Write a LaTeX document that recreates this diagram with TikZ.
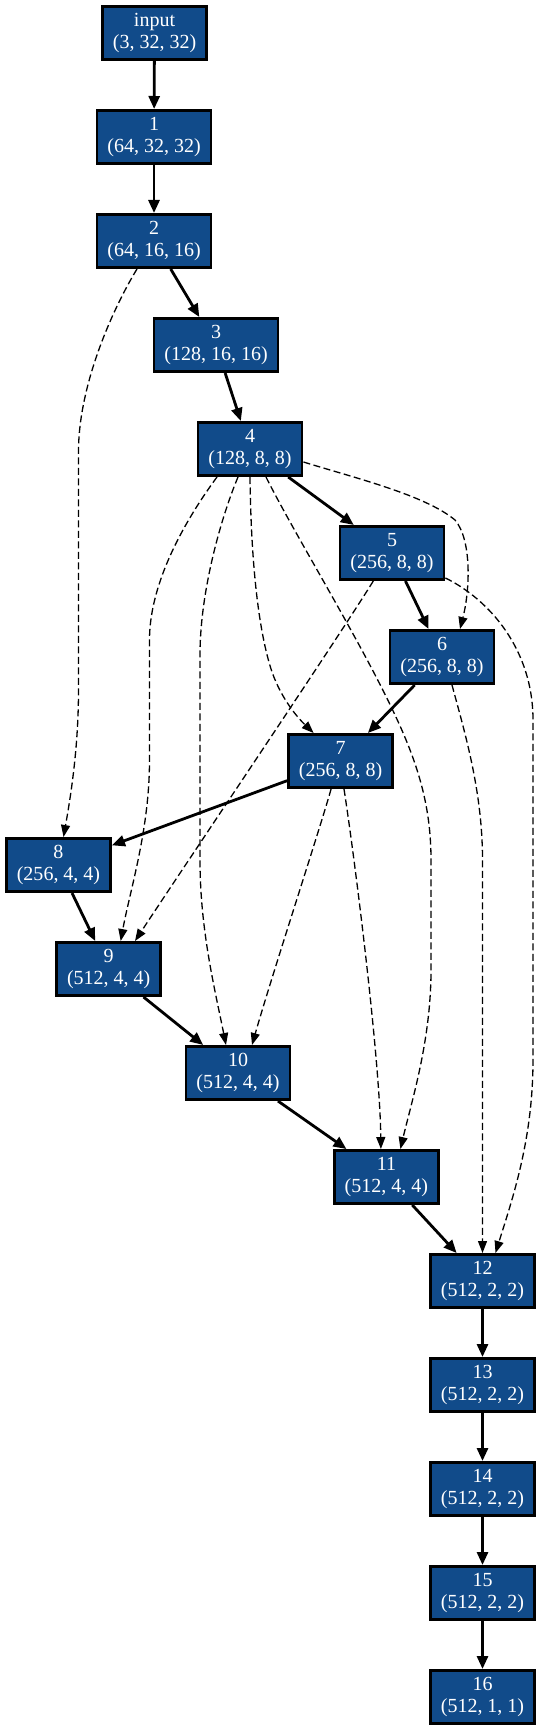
\documentclass[tikz,border=0pt]{standalone}
\usepackage{fontspec}
\setmainfont{Liberation Serif}
\usetikzlibrary{arrows.meta,calc}
\definecolor{nodeblue}{RGB}{17,75,138}
\begin{document}
\begin{tikzpicture}[x=1pt,y=-1pt,
  layerbox/.style={draw=black, line width=2.8pt, fill=nodeblue, text=white, align=center,
    font=\fontsize{20}{22.5}\selectfont, inner xsep=10.4pt, inner ysep=2pt, minimum height=53.2pt},
  flowedge/.style={line width=2.8pt, -{Triangle[length=13pt,width=11pt]}},
  skipedge/.style={line width=1.3pt, dash pattern=on 7pt off 3.5pt, -{Triangle[length=12pt,width=9pt]}}]
\useasboundingbox (0,0) rectangle (541,1731);

\node[layerbox] (in)  at (154.5,33)   {input\\(3, 32, 32)};
\node[layerbox] (n1)  at (154,137)    {1\\(64, 32, 32)};
\node[layerbox] (n2)  at (154,241)    {2\\(64, 16, 16)};
\node[layerbox] (n3)  at (216,345)    {3\\(128, 16, 16)};
\node[layerbox] (n4)  at (250,449)    {4\\(128, 8, 8)};
\node[layerbox] (n5)  at (392,553)    {5\\(256, 8, 8)};
\node[layerbox] (n6)  at (442,657)    {6\\(256, 8, 8)};
\node[layerbox] (n7)  at (340.6,761)  {7\\(256, 8, 8)};
\node[layerbox] (n8)  at (58.5,865)   {8\\(256, 4, 4)};
\node[layerbox] (n9)  at (108.7,969)  {9\\(512, 4, 4)};
\node[layerbox] (n10) at (238,1073)   {10\\(512, 4, 4)};
\node[layerbox] (n11) at (386.4,1177) {11\\(512, 4, 4)};
\node[layerbox] (n12) at (482.5,1281) {12\\(512, 2, 2)};
\node[layerbox] (n13) at (482.5,1385) {13\\(512, 2, 2)};
\node[layerbox] (n14) at (482.5,1489) {14\\(512, 2, 2)};
\node[layerbox] (n15) at (482.5,1593) {15\\(512, 2, 2)};
\node[layerbox] (n16) at (482.5,1697) {16\\(512, 1, 1)};

% main chain
\draw[flowedge] (in) -- (n1);
\draw[flowedge] (n1) -- (n2);
\draw[flowedge] (n2) -- (n3);
\draw[flowedge] (n3) -- (n4);
\draw[flowedge] (n4) -- (n5);
\draw[flowedge] (n5) -- (n6);
\draw[flowedge] (n6) -- (n7);
\draw[flowedge] (n7) -- (n8);
\draw[flowedge] (n8) -- (n9);
\draw[flowedge] (n9) -- (n10);
\draw[flowedge] (n10) -- (n11);
\draw[flowedge] (n11) -- (n12);
\draw[flowedge] (n12) -- (n13);
\draw[flowedge] (n13) -- (n14);
\draw[flowedge] (n14) -- (n15);
\draw[flowedge] (n15) -- (n16);

% skip connections
\draw[skipedge] ($(n2.south)+(-17,0)$) .. controls (112,310) and (79,385) .. (78.5,450)
  -- (78.5,690) .. controls (78.5,750) and (70,800) .. ($(n8.north)+(5,0)$);
\draw[skipedge] ($(n4.south)+(-33,0)$) .. controls (195,507) and (149.5,575) .. (149.5,640)
  -- (149.5,760) .. controls (149.5,830) and (130,890) .. ($(n9.north)+(12,0)$);
\draw[skipedge] ($(n4.south)+(-12,0)$) .. controls (222,515) and (200,590) .. (200,655)
  -- (200,860) .. controls (200,930) and (215,990) .. ($(n10.north)+(-12,0)$);
\draw[skipedge] (n4.south) .. controls (251,560) and (258,630) .. (272,672)
  .. controls (282,700) and (298,718) .. ($(n7.north)+(-27,0)$);
\draw[skipedge] ($(n4.south)+(16,0)$) .. controls (295,535) and (360,640) .. (395,715)
  .. controls (420,768) and (431,810) .. (431,860) -- (431,970)
  .. controls (431,1040) and (412,1100) .. ($(n11.north)+(14,0)$);
\draw[skipedge] ($(n4.east)+(0,13)$) .. controls (355,478) and (425,495) .. (455,520)
  .. controls (472,540) and (470,590) .. ($(n6.north)+(18,0)$);
\draw[skipedge] ($(n5.south)+(-18.7,0)$) .. controls (340,635) and (185,865) .. ($(n9.north)+(26.3,0)$);
\draw[skipedge] ($(n5.east)+(0,25)$) .. controls (490,600) and (533,650) .. (533,720)
  -- (533,1060) .. controls (533,1140) and (512,1200) .. ($(n12.north)+(13,0)$);
\draw[skipedge] ($(n6.south)+(10,0)$) .. controls (464,730) and (482.5,790) .. (482.5,860) -- (n12.north);
\draw[skipedge] ($(n7.south)+(-9.5,0)$) .. controls (318,835) and (272,975) .. ($(n10.north)+(14,0)$);
\draw[skipedge] ($(n7.south)+(3.4,0)$) .. controls (355,860) and (380,1060) .. ($(n11.north)+(-5.5,0)$);
\end{tikzpicture}
\end{document}
